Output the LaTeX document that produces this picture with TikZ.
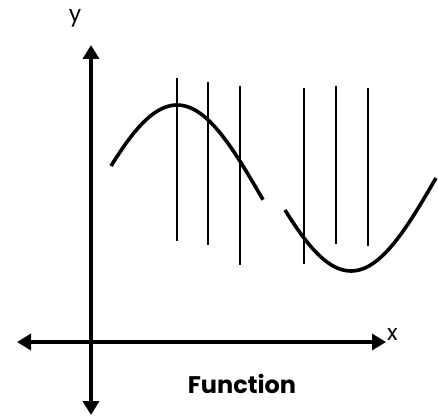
\documentclass[tikz,border=0pt]{standalone}
\usepackage{fontspec}
\setmainfont{Poppins}
\usetikzlibrary{arrows.meta,positioning}
\tikzset{
  axis/.style={{Triangle[length=14pt,width=16pt]}-{Triangle[length=14pt,width=16pt]},
    line width=4pt},
  wave/.style={line width=3.6pt,smooth,samples=60},
  probe/.style={line width=1.8pt},
  axislabel/.style={font=\fontsize{22}{22}\selectfont,inner sep=0pt}
}

\begin{document}
\begin{tikzpicture}[x=1pt,y=-1pt]
  \useasboundingbox (0,0) rectangle (438,417);

  % axes
  \coordinate (yTop) at (91,45);
  \coordinate (yBot) at (91,415);
  \coordinate (xLeft) at (17,342);
  \coordinate (xRight) at (386,342);
  \draw[axis] (yBot) -- (yTop);
  \draw[axis] (xLeft) -- (xRight);
  \node[axislabel,anchor=base] (ylab) at (75,22) {y};
  \node[axislabel,anchor=base west] (xlab) at (387,340) {x};

  % the two pieces of the wave
  \draw[wave,domain=111:263] plot (\x,{105+93*(1-cos((\x-177)*180/170))});
  \draw[wave,domain=285:436] plot (\x,{271-93*(1-cos((\x-351)*180/170))});

  % vertical test lines
  \foreach \px/\ya/\yb in {177/78/241,208/82/245,240/86/265,304/88/264,336/86/244,368/88/246}
    \draw[probe] (\px,\ya) -- (\px,\yb);

  \node[font=\bfseries\fontsize{24}{24}\selectfont,anchor=base] (title) at (242,393) {Function};
\end{tikzpicture}
\end{document}
